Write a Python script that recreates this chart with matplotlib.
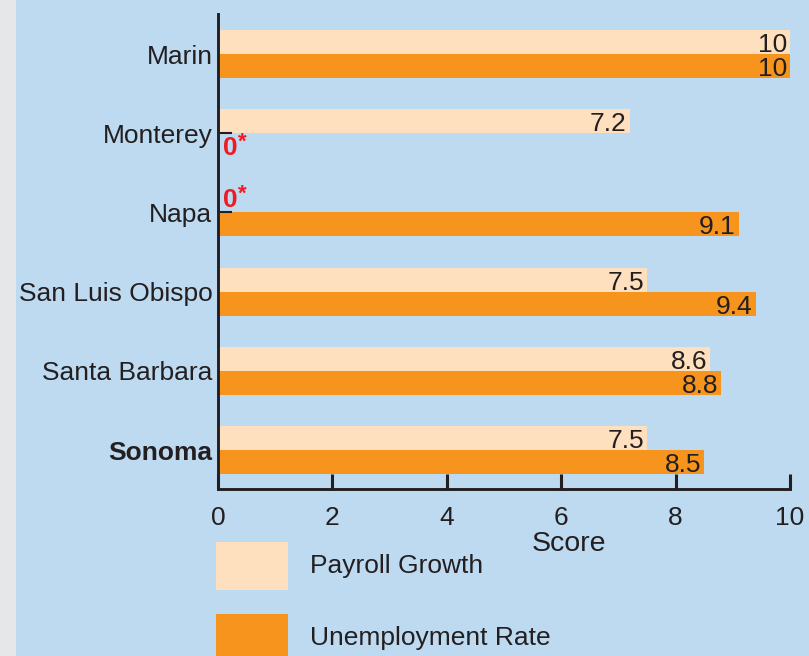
import matplotlib
matplotlib.use("Agg")
import matplotlib.pyplot as plt
from matplotlib.patches import Rectangle

plt.rcParams['font.family'] = ['Liberation Sans', 'DejaVu Sans']

categories = ["Marin", "Monterey", "Napa", "San Luis Obispo", "Santa Barbara", "Sonoma"]
payroll = [10, 7.2, 0, 7.5, 8.6, 7.5]
unemployment = [10, 0, 9.1, 9.4, 8.8, 8.5]
xticks = [0, 2, 4, 6, 8, 10]
series_names = ["Payroll Growth", "Unemployment Rate"]

W, H = 809, 656
BG = "#BDDAF1"
PEACH = "#FFE0BE"
ORANGE = "#F7941E"
TXT = "#231F20"
RED = "#ED1C24"
FS = 19

fig = plt.figure(figsize=(W / 100, H / 100), dpi=100)
fig.patch.set_facecolor(BG)
fig.add_artist(Rectangle((0, 0), 16 / W, 1, transform=fig.transFigure,
                         facecolor="#E6E7E8", edgecolor="none"))

def fx(px):
    return px / W

def fy(py):
    return 1 - py / H

ax = fig.add_axes([fx(218), fy(489), fx(790) - fx(218), fy(14) - fy(489)])
ax.set_facecolor("none")

n = len(categories)
ypos = list(range(n))
bh = 0.303
ax.barh([y - bh / 2 for y in ypos], payroll, height=bh, color=PEACH, zorder=2)
ax.barh([y + bh / 2 for y in ypos], unemployment, height=bh, color=ORANGE, zorder=2)

ax.set_xlim(0, 10)
ax.set_ylim(5.49, -0.505)

def label(v, yc, dy):
    if v > 0:
        ax.annotate(f"{v:g}", (v, yc), xytext=(-3, -3), textcoords="offset pixels",
                    ha="right", va="center", fontsize=FS, color=TXT, zorder=3)
    else:
        ax.annotate("0", (0, yc), xytext=(5, dy), textcoords="offset pixels",
                    ha="left", va="center", fontsize=FS, color=RED, fontweight="bold", zorder=3)
        ax.annotate("*", (0, yc), xytext=(20, dy + 6), textcoords="offset pixels",
                    ha="left", va="center", fontsize=16, color=RED, fontweight="bold", zorder=3)

for y, v in zip(ypos, payroll):
    if v == 0:
        ax.hlines(y, 0, 0.25, color=TXT, lw=1.5, zorder=3)
    label(v, y - bh / 2, 0)
for y, v in zip(ypos, unemployment):
    if v == 0:
        ax.hlines(y, 0, 0.25, color=TXT, lw=1.5, zorder=3)
    label(v, y + bh / 2, -3)

ax.set_yticks(ypos)
ax.set_yticklabels(categories, fontsize=FS, color=TXT)
ax.get_yticklabels()[-1].set_fontweight("bold")
ax.tick_params(axis="y", length=0, pad=4)

ax.set_xticks(xticks)
ax.set_xticklabels([str(t) for t in xticks], fontsize=FS, color=TXT)
ax.tick_params(axis="x", direction="in", length=11, width=2.2, color=TXT, pad=12)

for s in ["top", "right"]:
    ax.spines[s].set_visible(False)
for s in ["left", "bottom"]:
    ax.spines[s].set_color(TXT)
    ax.spines[s].set_linewidth(2.1)
    ax.spines[s].set_zorder(4)

fig.text(fx(569), fy(544), "Score", ha="center", va="center", fontsize=20.5, color=TXT)

for i, (name, col) in enumerate(zip(series_names, [PEACH, ORANGE])):
    top = 542 + i * 72
    fig.add_artist(Rectangle((fx(216), fy(top + 48)), fx(288) - fx(216), fy(top) - fy(top + 48),
                             transform=fig.transFigure, facecolor=col, edgecolor="none"))
    fig.text(fx(310), fy(top + 24), name, ha="left", va="center", fontsize=FS, color=TXT)

fig.savefig("out.png", dpi=100, facecolor=BG)
